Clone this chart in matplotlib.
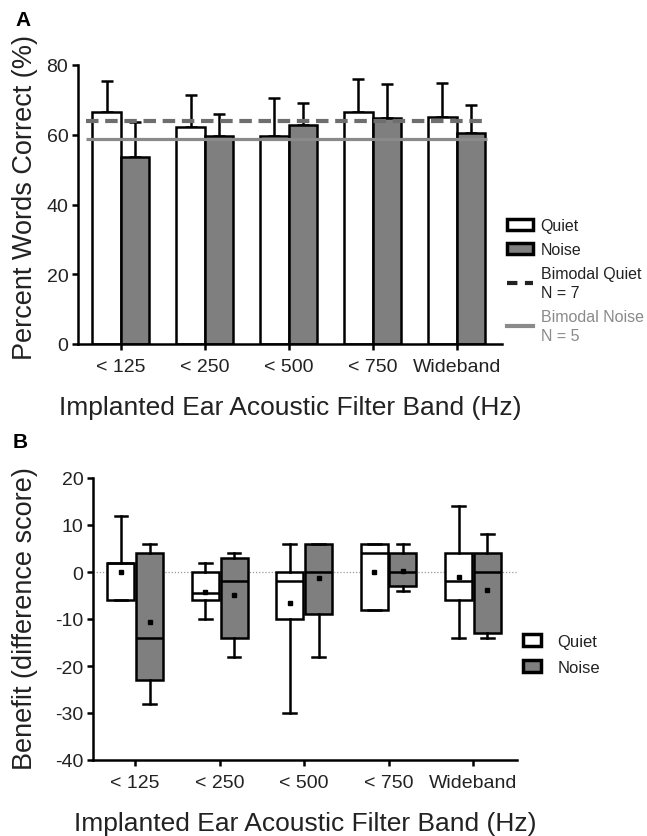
import numpy as np
import matplotlib
matplotlib.use("Agg")
from matplotlib import pyplot as plt
from matplotlib.patches import Patch
from matplotlib.lines import Line2D

plt.rcParams['font.family'] = ['Liberation Sans', 'DejaVu Sans']
plt.rcParams['axes.unicode_minus'] = False

# Data
bands = ['< 125', '< 250', '< 500', '< 750', 'Wideband']

# Panel A: mean percent words correct and SD (upper only)
quiet_mean = [66.5, 62.2, 59.6, 66.5, 65.0]
quiet_sd = [8.9, 9.1, 10.9, 9.5, 9.8]
noise_mean = [53.6, 59.6, 62.8, 64.8, 60.5]
noise_sd = [10.0, 6.3, 6.2, 9.7, 8.0]
bimodal_quiet = 64.0
bimodal_noise = 58.7

# Panel B: benefit box plots (min, q1, median, q3, max, mean)
quiet_box = [
    (-6, -6, 2, 2, 12, 0.0),
    (-10, -6, -4.5, 0, 2, -4.3),
    (-30, -10, -2, 0, 6, -6.7),
    (-8, -8, 4, 6, 6, 0.0),
    (-14, -6, -2, 4, 14, -1.1),
]
noise_box = [
    (-28, -23, -14, 4, 6, -10.6),
    (-18, -14, -2, 3, 4, -4.9),
    (-18, -9, 0, 6, 6, -1.3),
    (-4, -3, 0, 4, 6, 0.3),
    (-14, -13, 0, 4, 8, -3.8),
]

GRAY = '#7f7f7f'
LW = 1.8
TXT = '#222222'

fig = plt.figure(figsize=(6.47, 8.37), dpi=100)
W, H = 647.0, 837.0

x = np.arange(len(bands))
w = 0.34

# ---------------- Panel A ----------------
axA = fig.add_axes([78 / W, 1 - 345 / H, 424 / W, 279 / H])
axA.bar(x - w / 2, quiet_mean, w, color='white', edgecolor='black', linewidth=LW, zorder=2)
axA.bar(x + w / 2, noise_mean, w, color=GRAY, edgecolor='black', linewidth=LW, zorder=2)
axA.errorbar(x - w / 2, quiet_mean, yerr=[np.zeros(5), quiet_sd], fmt='none', ecolor='black',
             elinewidth=LW, capsize=4.5, capthick=LW, zorder=1)
axA.errorbar(x + w / 2, noise_mean, yerr=[np.zeros(5), noise_sd], fmt='none', ecolor='black',
             elinewidth=LW, capsize=4.5, capthick=LW, zorder=1)
axA.hlines(bimodal_quiet, -0.42, 4.36, colors='#6e6e6e', linewidth=3, linestyles=(0, (3, 1.6)), zorder=4)
axA.hlines(bimodal_noise, -0.42, 4.36, colors='#8a8a8a', linewidth=2.3, zorder=4)

axA.set_xlim(-0.51, 4.54)
axA.set_ylim(0, 80)
axA.set_yticks([0, 20, 40, 60, 80])
axA.set_xticks(x)
axA.set_xticklabels(bands)
for s in ['top', 'right']:
    axA.spines[s].set_visible(False)
for s in ['left', 'bottom']:
    axA.spines[s].set_linewidth(LW)
axA.tick_params(width=LW, length=4, labelsize=14, colors='black', labelcolor=TXT, pad=3)
axA.tick_params(axis='x', pad=6)
axA.set_ylabel('Percent Words Correct (%)', fontsize=19.5, color=TXT)
axA.yaxis.set_label_coords(-0.094, 0.53)
axA.set_xlabel('Implanted Ear Acoustic Filter Band (Hz)', fontsize=19, color=TXT)
axA.xaxis.set_label_coords(0.5, -0.183)

handlesA = [
    Patch(facecolor='white', edgecolor='black', linewidth=2.5),
    Patch(facecolor=GRAY, edgecolor='black', linewidth=2.5),
    Line2D([], [], color='#222222', linewidth=3, dashes=(2.5, 1.8)),
    Line2D([], [], color='#8a8a8a', linewidth=3),
]
labelsA = ['Quiet', 'Noise', 'Bimodal Quiet\nN = 7', 'Bimodal Noise\nN = 5']
legA = axA.legend(handlesA, labelsA, loc='upper left', bbox_to_anchor=(507 / W, 1 - 219 / H),
                  bbox_transform=fig.transFigure, frameon=False, borderpad=0, fontsize=11.5,
                  handlelength=1.65, handletextpad=0.45, labelspacing=0.55, borderaxespad=0)
for t in legA.get_texts():
    t.set_color(TXT)
    t.set_linespacing(1.35)
legA.get_texts()[3].set_color('#8a8a8a')

fig.text(15 / W, 1 - 20 / H, 'A', fontsize=15, fontweight='bold', va='center', ha='left')

# ---------------- Panel B ----------------
axB = fig.add_axes([93 / W, 1 - 761 / H, 424 / W, 282 / H])


def to_stats(rows):
    out = []
    for lo, q1, med, q3, hi, mean in rows:
        out.append(dict(whislo=lo, q1=q1, med=med, q3=q3, whishi=hi, mean=mean, fliers=[]))
    return out


bw = 0.32
common = dict(widths=bw, patch_artist=True, showmeans=True, showfliers=False,
              capwidths=0.15,
              whiskerprops=dict(color='black', linewidth=LW),
              capprops=dict(color='black', linewidth=LW),
              medianprops=dict(color='black', linewidth=LW),
              meanprops=dict(marker='s', markersize=3.5, markerfacecolor='black',
                             markeredgecolor='black'))
bq = axB.bxp(to_stats(quiet_box), positions=x - 0.17, manage_ticks=False,
             boxprops=dict(facecolor='white', edgecolor='black', linewidth=LW), **common)
bn = axB.bxp(to_stats(noise_box), positions=x + 0.17, manage_ticks=False,
             boxprops=dict(facecolor=GRAY, edgecolor='black', linewidth=LW), **common)

axB.axhline(0, color='#999999', linewidth=0.9, linestyle=(0, (1, 1.5)), zorder=0)
axB.set_xlim(-0.5, 4.52)
axB.set_ylim(-40, 20)
axB.set_yticks([-40, -30, -20, -10, 0, 10, 20])
axB.set_xticks(x)
axB.set_xticklabels(bands)
for s in ['top', 'right']:
    axB.spines[s].set_visible(False)
for s in ['left', 'bottom']:
    axB.spines[s].set_linewidth(LW)
axB.tick_params(width=LW, length=4, labelsize=14, colors='black', labelcolor=TXT, pad=3)
axB.tick_params(axis='x', pad=6)
axB.set_ylabel('Benefit (difference score)', fontsize=19.5, color=TXT)
axB.yaxis.set_label_coords(-0.13, 0.505)
axB.set_xlabel('Implanted Ear Acoustic Filter Band (Hz)', fontsize=19, color=TXT)
axB.xaxis.set_label_coords(0.5, -0.182)

handlesB = [
    Patch(facecolor='white', edgecolor='black', linewidth=2.5),
    Patch(facecolor=GRAY, edgecolor='black', linewidth=2.5),
]
legB = axB.legend(handlesB, ['Quiet', 'Noise'], loc='upper left', bbox_to_anchor=(523 / W, 1 - 635 / H),
                  bbox_transform=fig.transFigure, frameon=False, borderpad=0, fontsize=12,
                  handlelength=1.05, handletextpad=1.0, labelspacing=0.65, borderaxespad=0)
for t in legB.get_texts():
    t.set_color(TXT)

fig.text(13 / W, 1 - 443 / H, 'B', fontsize=15, fontweight='bold', va='center', ha='left')

plt.savefig('out.png', dpi=100)
